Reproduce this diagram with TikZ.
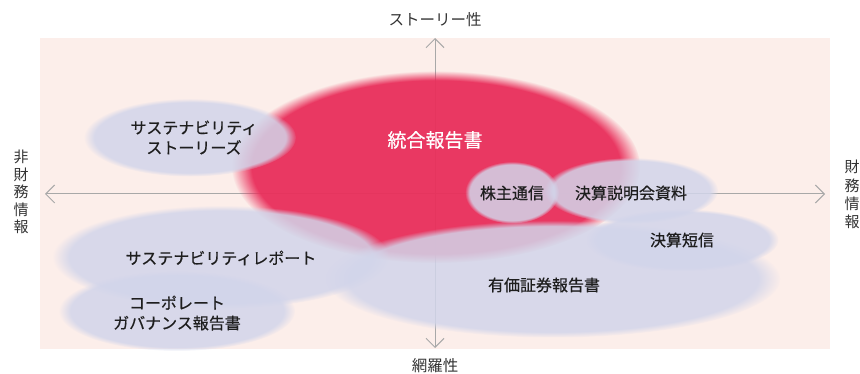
\documentclass[tikz,border=0pt]{standalone}
\usepackage{fontspec}
\setmainfont{Noto Sans CJK JP}
\newfontfamily\labfont[FakeBold=0.5]{Noto Sans CJK JP}
\usetikzlibrary{arrows.meta,fadings}

\definecolor{bgpink}{HTML}{FCEEEA}
\definecolor{redfill}{HTML}{E92F5B}
\definecolor{lav}{HTML}{D2D5EA}
\definecolor{axisgray}{HTML}{A8A8A8}
\definecolor{labelgray}{HTML}{333333}
\definecolor{txt}{HTML}{1E1E1E}

\begin{document}
\begin{tikzpicture}[x=1pt,y=-1pt,
  axis/.style={draw=axisgray, line width=1pt,
    {Straight Barb[length=9pt,width=18pt]}-{Straight Barb[length=9pt,width=18pt]}},
  redblob/.style={fill=redfill, fill opacity=0.95, path fading=circle with fuzzy edge 10 percent},
  blob/.style={fill=lav, fill opacity=0.85, path fading=circle with fuzzy edge 10 percent},
  lbl/.style={font=\labfont\fontsize{16}{20}\selectfont, text=txt, align=center, inner sep=0pt},
  axlbl/.style={font=\fontsize{15.5}{18}\selectfont, text=labelgray, align=center, inner sep=0pt},
]
\useasboundingbox (0,0) rectangle (860,374);

% background
\fill[bgpink] (40,38) rectangle (830,349);

% axes
\coordinate (atop) at (435,38);
\coordinate (abot) at (435,348);
\coordinate (aleft) at (45,194);
\coordinate (aright) at (825,194);
\draw[axis] (aleft) -- (aright);
\draw[axis] (atop) -- (abot);

% axis labels
\node[axlbl] (ltop) at (435,20) {ストーリー性};
\node[axlbl] (lbot) at (435,366) {網羅性};
\node[axlbl, font=\fontsize{15}{17.6}\selectfont] (lleft) at (21,192) {非\\財\\務\\情\\報};
\node[axlbl, font=\fontsize{15}{18.3}\selectfont] (lright) at (852,194.5) {財\\務\\情\\報};

% integrated report (red)
\fill[redblob] (436,167) ellipse [x radius=204, y radius=96];

% lavender blobs
\fill[blob] (190,137.5) ellipse [x radius=106, y radius=39];
\fill[blob] (221,257) ellipse [x radius=168, y radius=51.5];
\fill[blob] (177,311) ellipse [x radius=118, y radius=40];
\fill[blob] (553,279) ellipse [x radius=227, y radius=58.5];
\fill[blob] (631,190.5) ellipse [x radius=87, y radius=33];
\fill[blob] (512,192.5) ellipse [x radius=47, y radius=31];
\fill[blob] (682.5,240) ellipse [x radius=96, y radius=31];

% texts
\node[lbl, text=white, font=\labfont\fontsize{19}{22}\selectfont] (togo) at (435,140) {統合報告書};
\node[lbl] (sstories) at (194,137.5) {サステナビリティ\\ストーリーズ};
\node[lbl] (sreport) at (221,258) {サステナビリティレポート};
\node[lbl] (cgov) at (177,313) {コーポレート\\ガバナンス報告書};
\node[lbl] (yuho) at (544,285) {有価証券報告書};
\node[lbl] (tanshin) at (682,240) {決算短信};
\node[lbl] (kabunushi) at (512,193) {株主通信};
\node[lbl] (setsumei) at (631,193) {決算説明会資料};
\end{tikzpicture}
\end{document}
